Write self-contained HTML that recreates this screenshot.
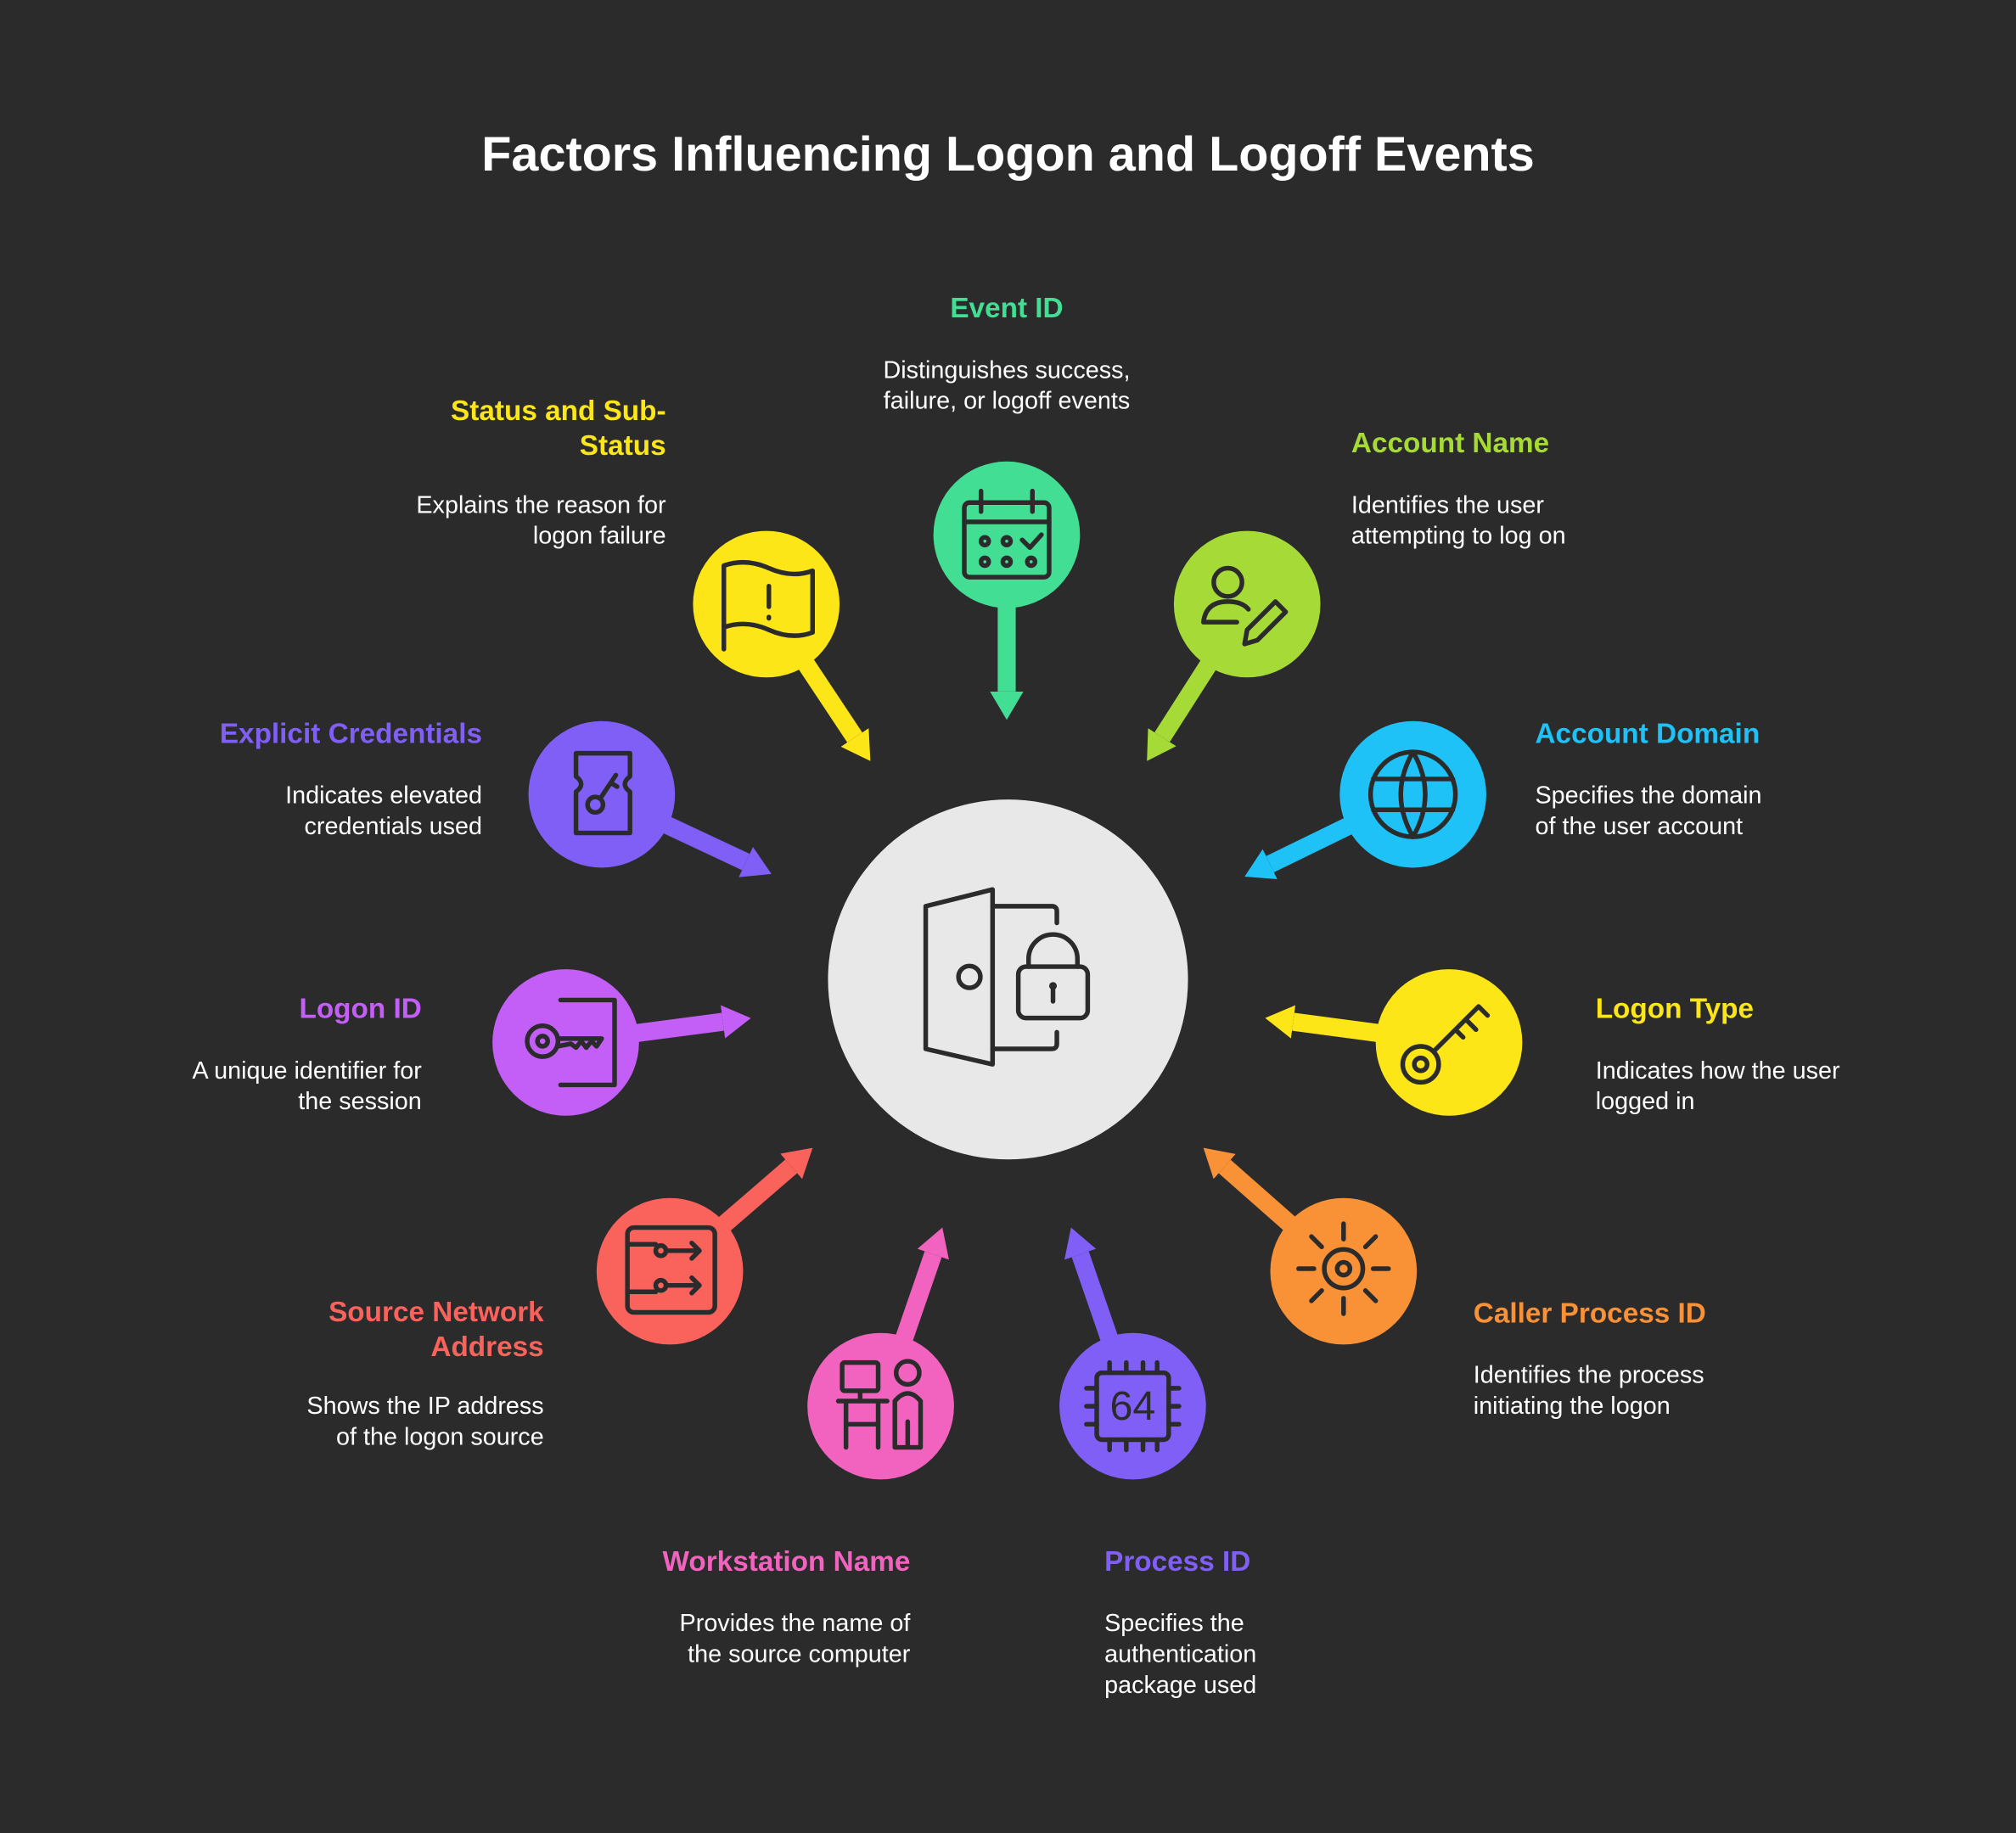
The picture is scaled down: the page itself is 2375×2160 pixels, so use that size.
<!DOCTYPE html>
<html><head><meta charset="utf-8"><style>
html,body{margin:0;padding:0;background:#2b2b2b;}
svg{display:block;}
text{font-family:"Liberation Sans",sans-serif;}
.t{font-weight:bold;font-size:22px;}
.d{fill:#fff;font-size:19px;}
.ic{fill:none;stroke:#2b2b2b;stroke-width:3.6;stroke-linecap:round;stroke-linejoin:round;}
</style></head><body>
<svg width="2375" height="2160" viewBox="0 0 1568 1426" xmlns="http://www.w3.org/2000/svg">
<defs>
<marker id="mg" markerUnits="userSpaceOnUse" markerWidth="24" markerHeight="28" refX="0" refY="14" orient="auto"><path d="M0,1 L22,14 L0,27z" fill="#42de94"/></marker>
<marker id="my" markerUnits="userSpaceOnUse" markerWidth="24" markerHeight="28" refX="0" refY="14" orient="auto"><path d="M0,1 L22,14 L0,27z" fill="#fde618"/></marker>
<marker id="ml" markerUnits="userSpaceOnUse" markerWidth="24" markerHeight="28" refX="0" refY="14" orient="auto"><path d="M0,1 L22,14 L0,27z" fill="#a6da36"/></marker>
<marker id="mp" markerUnits="userSpaceOnUse" markerWidth="24" markerHeight="28" refX="0" refY="14" orient="auto"><path d="M0,1 L22,14 L0,27z" fill="#7f5ff6"/></marker>
<marker id="mc" markerUnits="userSpaceOnUse" markerWidth="24" markerHeight="28" refX="0" refY="14" orient="auto"><path d="M0,1 L22,14 L0,27z" fill="#1ec2f6"/></marker>
<marker id="mv" markerUnits="userSpaceOnUse" markerWidth="24" markerHeight="28" refX="0" refY="14" orient="auto"><path d="M0,1 L22,14 L0,27z" fill="#c35ff6"/></marker>
<marker id="mr" markerUnits="userSpaceOnUse" markerWidth="24" markerHeight="28" refX="0" refY="14" orient="auto"><path d="M0,1 L22,14 L0,27z" fill="#fa625c"/></marker>
<marker id="mo" markerUnits="userSpaceOnUse" markerWidth="24" markerHeight="28" refX="0" refY="14" orient="auto"><path d="M0,1 L22,14 L0,27z" fill="#f99136"/></marker>
<marker id="mk" markerUnits="userSpaceOnUse" markerWidth="24" markerHeight="28" refX="0" refY="14" orient="auto"><path d="M0,1 L22,14 L0,27z" fill="#f163be"/></marker>
</defs>
<rect width="1568" height="1426" fill="#2b2b2b"/>
<text x="784" y="120" text-anchor="middle" dominant-baseline="central" fill="#fff" font-weight="bold" font-size="38">Factors Influencing Logon and Logoff Events</text>

<g stroke-width="14" fill="none">
<line x1="783" y1="416" x2="783" y2="538" stroke="#42de94" marker-end="url(#mg)"/>
<line x1="596" y1="470" x2="664.8" y2="573.7" stroke="#fde618" marker-end="url(#my)"/>
<line x1="970" y1="470" x2="903.9" y2="573.5" stroke="#a6da36" marker-end="url(#ml)"/>
<line x1="468" y1="618" x2="580.1" y2="670.6" stroke="#7f5ff6" marker-end="url(#mp)"/>
<line x1="1099" y1="618" x2="987.8" y2="672.3" stroke="#1ec2f6" marker-end="url(#mc)"/>
<line x1="440" y1="811" x2="562.2" y2="794.9" stroke="#c35ff6" marker-end="url(#mv)"/>
<line x1="1127" y1="811" x2="1005.8" y2="794.9" stroke="#fde618" marker-end="url(#my)"/>
<line x1="521" y1="989" x2="615.4" y2="907.4" stroke="#fa625c" marker-end="url(#mr)"/>
<line x1="1045" y1="989" x2="952.5" y2="907.5" stroke="#f99136" marker-end="url(#mo)"/>
<line x1="685" y1="1094" x2="725.8" y2="975.8" stroke="#f163be" marker-end="url(#mk)"/>
<line x1="881" y1="1094" x2="840.2" y2="975.8" stroke="#7f5ff6" marker-end="url(#mp)"/>
</g>

<circle cx="784" cy="762" r="140" fill="#e8e8e8"/>
<g class="ic" stroke-width="3.4">
<path d="M720,705 L772,692 L772,828 L720,816 Z"/>
<circle cx="754" cy="760" r="8.5"/>
<path d="M772,705 L818,705 Q822,705 822,709 L822,718"/>
<path d="M772,816 L818,816 Q822,816 822,812 L822,803"/>
<rect x="792" y="752" width="54" height="40" rx="6"/>
<path d="M800,752 L800,746 A19,19 0 0 1 838,746 L838,752"/>
<path d="M819,768 L819,779"/>
</g>
<circle cx="819" cy="767" r="3" fill="#2b2b2b"/>

<!-- circles -->
<circle cx="783" cy="416" r="57" fill="#42de94"/>
<circle cx="596" cy="470" r="57" fill="#fde618"/>
<circle cx="970" cy="470" r="57" fill="#a6da36"/>
<circle cx="468" cy="618" r="57" fill="#7f5ff6"/>
<circle cx="1099" cy="618" r="57" fill="#1ec2f6"/>
<circle cx="440" cy="811" r="57" fill="#c35ff6"/>
<circle cx="1127" cy="811" r="57" fill="#fde618"/>
<circle cx="521" cy="989" r="57" fill="#fa625c"/>
<circle cx="1045" cy="989" r="57" fill="#f99136"/>
<circle cx="685" cy="1094" r="57" fill="#f163be"/>
<circle cx="881" cy="1094" r="57" fill="#7f5ff6"/>

<!-- icons -->
<g class="ic">
<!-- calendar -->
<rect x="750" y="391" width="66" height="58" rx="4"/>
<path d="M750,406 L816,406 M763,382 L763,398 M803,382 L803,398 M795,420 L801,426 L810,416"/>
<circle cx="766" cy="421" r="3"/><circle cx="783" cy="421" r="3"/>
<circle cx="766" cy="437" r="3"/><circle cx="783" cy="437" r="3"/><circle cx="802" cy="437" r="3"/>
<!-- flag -->
<path d="M563,440 L563,505 M563,440 Q580,434 598,442 Q616,450 632,444 L632,492 Q616,498 598,490 Q580,482 563,488"/>
<path d="M598,456 L598,472 M598,480 L598,481"/>
<!-- user pencil -->
<circle cx="955" cy="453" r="11"/>
<path d="M936,484 Q938,468 955,468 Q966,468 971,474 M936,484 L962,484"/>
<path d="M968,501 L970,490 L992,468 L1000,476 L978,498 Z"/>
<!-- ticket key -->
<path d="M448,586 L490,586 L490,604 Q482,610 490,616 L490,648 L448,648 L448,616 Q456,610 448,604 Z"/>
<circle cx="463" cy="626" r="6"/><path d="M467,621 L479,603 M475,609 L480,612"/>
<!-- www globe -->
<circle cx="1099" cy="618" r="33"/>
<path d="M1068,606 L1130,606 M1068,630 L1130,630 M1099,585 Q1080,618 1099,651 M1099,585 Q1118,618 1099,651"/>
<!-- logon id key -->
<path d="M436,778 L478,778 L478,844 L436,844"/>
<circle cx="422" cy="810" r="12"/><circle cx="422" cy="810" r="4"/>
<path d="M434,808 L468,808 L464,814 L460,810 L456,815 L452,810 L448,815 L444,812 L434,814"/>
<!-- logon type key -->
<circle cx="1105" cy="828" r="14"/><circle cx="1105" cy="828" r="5"/>
<path d="M1115,818 L1150,783 L1157,790 M1140,793 L1148,801 M1132,801 L1138,807"/>
<!-- source network -->
<rect x="488" y="955" width="68" height="66" rx="5"/>
<circle cx="514" cy="973" r="4"/><circle cx="514" cy="1000" r="4"/>
<path d="M488,968 L510,968 M518,973 L544,973 M538,967 L544,973 L538,979 M488,1005 L510,1005 M518,1000 L544,1000 M538,994 L544,1000 L538,1006"/>
<!-- caller process sun -->
<circle cx="1045" cy="987" r="15"/><circle cx="1045" cy="987" r="5"/>
<path d="M1045,952 L1045,964 M1045,1010 L1045,1022 M1010,987 L1022,987 M1068,987 L1080,987 M1020,962 L1028,970 M1062,1004 L1070,1012 M1070,962 L1062,970 M1028,1004 L1020,1012"/>
<!-- workstation -->
<rect x="655" y="1060" width="28" height="22" rx="2"/>
<path d="M669,1082 L669,1090 M652,1090 L690,1090 M658,1090 L658,1126 M683,1090 L683,1126 M658,1108 L683,1108"/>
<circle cx="706" cy="1068" r="9"/>
<path d="M696,1126 L696,1090 Q706,1078 716,1090 L716,1126 Z M706,1106 L706,1126"/>
<!-- chip 64 -->
<rect x="853" y="1068" width="56" height="52" rx="4"/>
<path d="M863,1060 L863,1068 M876,1060 L876,1068 M889,1060 L889,1068 M900,1060 L900,1068 M863,1120 L863,1128 M876,1120 L876,1128 M889,1120 L889,1128 M900,1120 L900,1128 M845,1080 L853,1080 M845,1094 L853,1094 M845,1108 L853,1108 M909,1080 L917,1080 M909,1094 L917,1094 M909,1108 L917,1108"/>
</g>
<text x="881" y="1094" text-anchor="middle" dominant-baseline="central" font-size="32" fill="#2b2b2b">64</text>

<!-- labels -->
<text class="t" x="783" y="240" text-anchor="middle" dominant-baseline="central" fill="#42de94">Event ID</text>
<text class="d" x="783" y="288" text-anchor="middle" dominant-baseline="central">Distinguishes success,</text>
<text class="d" x="783" y="312" text-anchor="middle" dominant-baseline="central">failure, or logoff events</text>

<text class="t" x="518" y="320" text-anchor="end" dominant-baseline="central" fill="#fde618">Status and Sub-</text>
<text class="t" x="518" y="347" text-anchor="end" dominant-baseline="central" fill="#fde618">Status</text>
<text class="d" x="518" y="393" text-anchor="end" dominant-baseline="central">Explains the reason for</text>
<text class="d" x="518" y="417" text-anchor="end" dominant-baseline="central">logon failure</text>

<text class="t" x="1051" y="345" dominant-baseline="central" fill="#a6da36">Account Name</text>
<text class="d" x="1051" y="393" dominant-baseline="central">Identifies the user</text>
<text class="d" x="1051" y="417" dominant-baseline="central">attempting to log on</text>

<text class="t" x="375" y="571" text-anchor="end" dominant-baseline="central" fill="#7f5ff6">Explicit Credentials</text>
<text class="d" x="375" y="619" text-anchor="end" dominant-baseline="central">Indicates elevated</text>
<text class="d" x="375" y="643" text-anchor="end" dominant-baseline="central">credentials used</text>

<text class="t" x="1194" y="571" dominant-baseline="central" fill="#1ec2f6">Account Domain</text>
<text class="d" x="1194" y="619" dominant-baseline="central">Specifies the domain</text>
<text class="d" x="1194" y="643" dominant-baseline="central">of the user account</text>

<text class="t" x="328" y="785" text-anchor="end" dominant-baseline="central" fill="#c35ff6">Logon ID</text>
<text class="d" x="328" y="833" text-anchor="end" dominant-baseline="central">A unique identifier for</text>
<text class="d" x="328" y="857" text-anchor="end" dominant-baseline="central">the session</text>

<text class="t" x="1241" y="785" dominant-baseline="central" fill="#fde618">Logon Type</text>
<text class="d" x="1241" y="833" dominant-baseline="central">Indicates how the user</text>
<text class="d" x="1241" y="857" dominant-baseline="central">logged in</text>

<text class="t" x="423" y="1021" text-anchor="end" dominant-baseline="central" fill="#fa625c">Source Network</text>
<text class="t" x="423" y="1048" text-anchor="end" dominant-baseline="central" fill="#fa625c">Address</text>
<text class="d" x="423" y="1094" text-anchor="end" dominant-baseline="central">Shows the IP address</text>
<text class="d" x="423" y="1118" text-anchor="end" dominant-baseline="central">of the logon source</text>

<text class="t" x="1146" y="1022" dominant-baseline="central" fill="#f99136">Caller Process ID</text>
<text class="d" x="1146" y="1070" dominant-baseline="central">Identifies the process</text>
<text class="d" x="1146" y="1094" dominant-baseline="central">initiating the logon</text>

<text class="t" x="708" y="1215" text-anchor="end" dominant-baseline="central" fill="#f163be">Workstation Name</text>
<text class="d" x="708" y="1263" text-anchor="end" dominant-baseline="central">Provides the name of</text>
<text class="d" x="708" y="1287" text-anchor="end" dominant-baseline="central">the source computer</text>

<text class="t" x="859" y="1215" dominant-baseline="central" fill="#7f5ff6">Process ID</text>
<text class="d" x="859" y="1263" dominant-baseline="central">Specifies the</text>
<text class="d" x="859" y="1287" dominant-baseline="central">authentication</text>
<text class="d" x="859" y="1311" dominant-baseline="central">package used</text>
</svg>
</body></html>
